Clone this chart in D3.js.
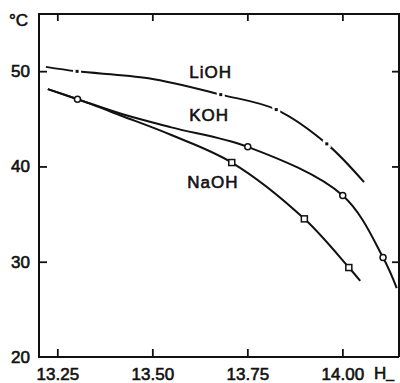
<!DOCTYPE html>
<html>
<head>
<meta charset="utf-8">
<script src="https://cdn.jsdelivr.net/npm/d3@7"></script>
<style>
  html, body { margin: 0; padding: 0; background: #fff; }
  svg text { font-family: "Liberation Sans", Arial, sans-serif; fill: #111; stroke: #111; stroke-width: 0.6px; font-weight: normal; }
</style>
</head>
<body>
<svg id="chart" width="400" height="383"></svg>
<script>
// ---- data ----
const xTicks = [13.25, 13.50, 13.75, 14.00];
const xTickLabels = ["13.25", "13.50", "13.75", "14.00"];
const yTicks = [20, 30, 40, 50];
const yTickLabels = ["20", "30", "40", "50"];

// curve paths (H_, °C)
const liohCurve = [[13.220, 50.45], [13.302, 49.98], [13.49, 49.25], [13.680, 47.54], [13.826, 45.97], [13.959, 42.37], [14.057, 38.35]];
const kohCurve  = [[13.225, 48.11], [13.303, 47.06], [13.42, 45.5], [13.55, 44.1], [13.751, 42.06], [14.001, 36.95], [14.107, 30.44], [14.143, 27.23]];
const naohCurve = [[13.225, 48.11], [13.303, 47.06], [13.42, 45.3], [13.55, 43.3], [13.709, 40.41], [13.900, 34.50], [14.017, 29.39], [14.047, 28.00]];

// measured points (markers)
const liohPoints = [[13.302, 49.98], [13.680, 47.54], [13.826, 45.97], [13.959, 42.37]];
const kohPoints  = [[13.303, 47.06], [13.751, 42.06], [14.001, 36.95], [14.107, 30.44]];
const naohPoints = [[13.709, 40.41], [13.900, 34.50], [14.017, 29.39]];

const seriesLabels = [
  { name: "LiOH", x: 13.597, y: 49.3 },
  { name: "KOH",  x: 13.597, y: 44.8 },
  { name: "NaOH", x: 13.592, y: 37.7 }
];

// ---- layout ----
const svg = d3.select("#chart");
const L = 39, R = 399, T = 14, B = 357;
const x = d3.scaleLinear().domain([13.2018, 14.149]).range([L, R]);
const y = d3.scaleLinear().domain([20, 56]).range([B, T]);

const g = svg.append("g");

// frame
g.append("path")
  .attr("d", `M${R},${B} L${L},${B} L${L},${T} L${R},${T} L${R},${B}`)
  .attr("fill", "none").attr("stroke", "#111").attr("stroke-width", 2);

// axes via d3 axis generators
const fontSize = 17;
const xAxisB = d3.axisBottom(x).tickValues(xTicks).tickFormat((d, i) => xTickLabels[i]).tickSize(-8).tickPadding(11);
const gxb = g.append("g").attr("transform", `translate(0,${B})`).call(xAxisB);
const xAxisT = d3.axisTop(x).tickValues(xTicks).tickFormat("").tickSize(-7);
const gxt = g.append("g").attr("transform", `translate(0,${T})`).call(xAxisT);
const yAxisL = d3.axisLeft(y).tickValues(yTicks).tickFormat((d, i) => yTickLabels[i]).tickSize(-8).tickPadding(9);
const gyl = g.append("g").attr("transform", `translate(${L},0)`).call(yAxisL);
const yAxisR = d3.axisRight(y).tickValues(yTicks.filter(d => d > 20)).tickFormat("").tickSize(-7);
const gyr = g.append("g").attr("transform", `translate(${R},0)`).call(yAxisR);

[gxb, gxt, gyl, gyr].forEach(a => {
  a.select(".domain").remove();
  a.selectAll(".tick line").attr("stroke", "#111").attr("stroke-width", 1.8);
  a.selectAll("text").attr("font-size", fontSize)
    .attr("font-family", "Liberation Sans, Arial, sans-serif").attr("fill", "#111");
});
gyl.selectAll(".tick").filter(d => d === 20).select("line").remove();

// unit labels
g.append("text").attr("x", 9).attr("y", 26).attr("font-size", fontSize).text("°C");
const hl = g.append("text").attr("x", 374).attr("y", 379).attr("font-size", fontSize);
hl.append("tspan").text("H");
hl.append("tspan").attr("dy", -1).attr("font-size", 14).text("_");

// curves
const line = d3.line().x(d => x(d[0])).y(d => y(d[1])).curve(d3.curveCatmullRom.alpha(0.5));
[liohCurve, kohCurve, naohCurve].forEach(c => {
  g.append("path").attr("d", line(c)).attr("fill", "none")
    .attr("stroke", "#111").attr("stroke-width", 2);
});

// LiOH markers: tiny filled squares with a gap in the line
g.selectAll(".mli-gap").data(liohPoints).join("rect")
  .attr("x", d => x(d[0]) - 4).attr("y", d => y(d[1]) - 4)
  .attr("width", 8).attr("height", 8).attr("fill", "#fff");
g.selectAll(".mli").data(liohPoints).join("rect")
  .attr("x", d => x(d[0]) - 1.5).attr("y", d => y(d[1]) - 1.5)
  .attr("width", 3).attr("height", 3).attr("fill", "#111");

// KOH markers: open circles
g.selectAll(".mko").data(kohPoints).join("circle")
  .attr("cx", d => x(d[0])).attr("cy", d => y(d[1])).attr("r", 3)
  .attr("fill", "#fff").attr("stroke", "#111").attr("stroke-width", 1.5);

// NaOH markers: open squares
g.selectAll(".mna").data(naohPoints).join("rect")
  .attr("x", d => x(d[0]) - 3).attr("y", d => y(d[1]) - 3)
  .attr("width", 6).attr("height", 6)
  .attr("fill", "#fff").attr("stroke", "#111").attr("stroke-width", 1.5);

// series labels
g.selectAll(".slab").data(seriesLabels).join("text")
  .attr("x", d => x(d.x)).attr("y", d => y(d.y))
  .attr("font-size", fontSize).attr("letter-spacing", 1).text(d => d.name);
</script>
</body>
</html>
